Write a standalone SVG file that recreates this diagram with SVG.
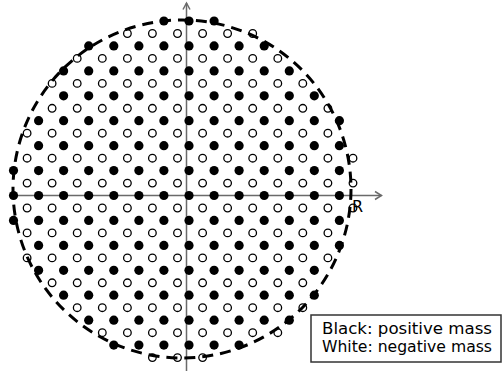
<svg xmlns="http://www.w3.org/2000/svg" width="502" height="371" viewBox="0 0 502 371">
<style>
.ax{stroke:#6a6a6a;stroke-width:1.5;fill:none}
.bd{fill:#000}
.wd{fill:#fff;stroke:#000;stroke-width:1.3}
.rim{fill:none;stroke:#000;stroke-width:3;stroke-dasharray:11 7}
.lbl{font-family:"DejaVu Sans","Liberation Sans",sans-serif;fill:#000}
</style>
<defs>
<circle id="b" r="4.6" class="bd"/>
<circle id="w" r="3.8" class="wd"/>
</defs>
<rect width="502" height="371" fill="#fff"/>
<g id="axes">
<line class="ax" x1="186.5" y1="371" x2="186.5" y2="3"/>
<polyline class="ax" points="183,9.5 186.5,3 190,9.5"/>
<line class="ax" x1="12" y1="195.5" x2="381.5" y2="195.5"/>
<polyline class="ax" points="375,191.5 381.5,195.5 375,199.5"/>
</g>
<g id="positive">
<use href="#b" x="163.9" y="21"/><use href="#b" x="189" y="21"/><use href="#b" x="214.1" y="21"/>
<use href="#b" x="88.7" y="45.9"/><use href="#b" x="113.8" y="45.9"/><use href="#b" x="138.9" y="45.9"/><use href="#b" x="163.9" y="45.9"/><use href="#b" x="189" y="45.9"/><use href="#b" x="214.1" y="45.9"/><use href="#b" x="239.1" y="45.9"/><use href="#b" x="264.2" y="45.9"/>
<use href="#b" x="63.6" y="70.9"/><use href="#b" x="88.7" y="70.9"/><use href="#b" x="113.8" y="70.9"/><use href="#b" x="138.9" y="70.9"/><use href="#b" x="163.9" y="70.9"/><use href="#b" x="189" y="70.9"/><use href="#b" x="214.1" y="70.9"/><use href="#b" x="239.1" y="70.9"/><use href="#b" x="264.2" y="70.9"/><use href="#b" x="289.3" y="70.9"/>
<use href="#b" x="63.6" y="95.8"/><use href="#b" x="88.7" y="95.8"/><use href="#b" x="113.8" y="95.8"/><use href="#b" x="138.9" y="95.8"/><use href="#b" x="163.9" y="95.8"/><use href="#b" x="189" y="95.8"/><use href="#b" x="214.1" y="95.8"/><use href="#b" x="239.1" y="95.8"/><use href="#b" x="264.2" y="95.8"/><use href="#b" x="289.3" y="95.8"/><use href="#b" x="314.3" y="95.8"/>
<use href="#b" x="38.6" y="120.7"/><use href="#b" x="63.6" y="120.7"/><use href="#b" x="88.7" y="120.7"/><use href="#b" x="113.8" y="120.7"/><use href="#b" x="138.9" y="120.7"/><use href="#b" x="163.9" y="120.7"/><use href="#b" x="189" y="120.7"/><use href="#b" x="214.1" y="120.7"/><use href="#b" x="239.1" y="120.7"/><use href="#b" x="264.2" y="120.7"/><use href="#b" x="289.3" y="120.7"/><use href="#b" x="314.3" y="120.7"/><use href="#b" x="339.4" y="120.7"/>
<use href="#b" x="38.6" y="145.7"/><use href="#b" x="63.6" y="145.7"/><use href="#b" x="88.7" y="145.7"/><use href="#b" x="113.8" y="145.7"/><use href="#b" x="138.9" y="145.7"/><use href="#b" x="163.9" y="145.7"/><use href="#b" x="189" y="145.7"/><use href="#b" x="214.1" y="145.7"/><use href="#b" x="239.1" y="145.7"/><use href="#b" x="264.2" y="145.7"/><use href="#b" x="289.3" y="145.7"/><use href="#b" x="314.3" y="145.7"/><use href="#b" x="339.4" y="145.7"/>
<use href="#b" x="13.5" y="170.6"/><use href="#b" x="38.6" y="170.6"/><use href="#b" x="63.6" y="170.6"/><use href="#b" x="88.7" y="170.6"/><use href="#b" x="113.8" y="170.6"/><use href="#b" x="138.9" y="170.6"/><use href="#b" x="163.9" y="170.6"/><use href="#b" x="189" y="170.6"/><use href="#b" x="214.1" y="170.6"/><use href="#b" x="239.1" y="170.6"/><use href="#b" x="264.2" y="170.6"/><use href="#b" x="289.3" y="170.6"/><use href="#b" x="314.3" y="170.6"/><use href="#b" x="339.4" y="170.6"/>
<use href="#b" x="13.5" y="195.5"/><use href="#b" x="38.6" y="195.5"/><use href="#b" x="63.6" y="195.5"/><use href="#b" x="88.7" y="195.5"/><use href="#b" x="113.8" y="195.5"/><use href="#b" x="138.9" y="195.5"/><use href="#b" x="163.9" y="195.5"/><use href="#b" x="189" y="195.5"/><use href="#b" x="214.1" y="195.5"/><use href="#b" x="239.1" y="195.5"/><use href="#b" x="264.2" y="195.5"/><use href="#b" x="289.3" y="195.5"/><use href="#b" x="314.3" y="195.5"/><use href="#b" x="339.4" y="195.5"/>
<use href="#b" x="13.5" y="220.4"/><use href="#b" x="38.6" y="220.4"/><use href="#b" x="63.6" y="220.4"/><use href="#b" x="88.7" y="220.4"/><use href="#b" x="113.8" y="220.4"/><use href="#b" x="138.9" y="220.4"/><use href="#b" x="163.9" y="220.4"/><use href="#b" x="189" y="220.4"/><use href="#b" x="214.1" y="220.4"/><use href="#b" x="239.1" y="220.4"/><use href="#b" x="264.2" y="220.4"/><use href="#b" x="289.3" y="220.4"/><use href="#b" x="314.3" y="220.4"/><use href="#b" x="339.4" y="220.4"/>
<use href="#b" x="38.6" y="245.4"/><use href="#b" x="63.6" y="245.4"/><use href="#b" x="88.7" y="245.4"/><use href="#b" x="113.8" y="245.4"/><use href="#b" x="138.9" y="245.4"/><use href="#b" x="163.9" y="245.4"/><use href="#b" x="189" y="245.4"/><use href="#b" x="214.1" y="245.4"/><use href="#b" x="239.1" y="245.4"/><use href="#b" x="264.2" y="245.4"/><use href="#b" x="289.3" y="245.4"/><use href="#b" x="314.3" y="245.4"/><use href="#b" x="339.4" y="245.4"/>
<use href="#b" x="38.6" y="270.3"/><use href="#b" x="63.6" y="270.3"/><use href="#b" x="88.7" y="270.3"/><use href="#b" x="113.8" y="270.3"/><use href="#b" x="138.9" y="270.3"/><use href="#b" x="163.9" y="270.3"/><use href="#b" x="189" y="270.3"/><use href="#b" x="214.1" y="270.3"/><use href="#b" x="239.1" y="270.3"/><use href="#b" x="264.2" y="270.3"/><use href="#b" x="289.3" y="270.3"/><use href="#b" x="314.3" y="270.3"/>
<use href="#b" x="63.6" y="295.2"/><use href="#b" x="88.7" y="295.2"/><use href="#b" x="113.8" y="295.2"/><use href="#b" x="138.9" y="295.2"/><use href="#b" x="163.9" y="295.2"/><use href="#b" x="189" y="295.2"/><use href="#b" x="214.1" y="295.2"/><use href="#b" x="239.1" y="295.2"/><use href="#b" x="264.2" y="295.2"/><use href="#b" x="289.3" y="295.2"/><use href="#b" x="314.3" y="295.2"/>
<use href="#b" x="88.7" y="320.2"/><use href="#b" x="113.8" y="320.2"/><use href="#b" x="138.9" y="320.2"/><use href="#b" x="163.9" y="320.2"/><use href="#b" x="189" y="320.2"/><use href="#b" x="214.1" y="320.2"/><use href="#b" x="239.1" y="320.2"/><use href="#b" x="264.2" y="320.2"/><use href="#b" x="289.3" y="320.2"/>
<use href="#b" x="113.8" y="345.1"/><use href="#b" x="138.9" y="345.1"/><use href="#b" x="163.9" y="345.1"/><use href="#b" x="189" y="345.1"/><use href="#b" x="214.1" y="345.1"/><use href="#b" x="239.1" y="345.1"/>
</g>
<g id="negative">
<use href="#w" x="127.4" y="33.5"/><use href="#w" x="152.4" y="33.5"/><use href="#w" x="177.5" y="33.5"/><use href="#w" x="202.6" y="33.5"/><use href="#w" x="227.6" y="33.5"/><use href="#w" x="252.7" y="33.5"/>
<use href="#w" x="77.2" y="58.4"/><use href="#w" x="102.3" y="58.4"/><use href="#w" x="127.4" y="58.4"/><use href="#w" x="152.4" y="58.4"/><use href="#w" x="177.5" y="58.4"/><use href="#w" x="202.6" y="58.4"/><use href="#w" x="227.6" y="58.4"/><use href="#w" x="252.7" y="58.4"/><use href="#w" x="277.8" y="58.4"/>
<use href="#w" x="52.1" y="83.4"/><use href="#w" x="77.2" y="83.4"/><use href="#w" x="102.3" y="83.4"/><use href="#w" x="127.4" y="83.4"/><use href="#w" x="152.4" y="83.4"/><use href="#w" x="177.5" y="83.4"/><use href="#w" x="202.6" y="83.4"/><use href="#w" x="227.6" y="83.4"/><use href="#w" x="252.7" y="83.4"/><use href="#w" x="277.8" y="83.4"/><use href="#w" x="302.8" y="83.4"/>
<use href="#w" x="52.1" y="108.3"/><use href="#w" x="77.2" y="108.3"/><use href="#w" x="102.3" y="108.3"/><use href="#w" x="127.4" y="108.3"/><use href="#w" x="152.4" y="108.3"/><use href="#w" x="177.5" y="108.3"/><use href="#w" x="202.6" y="108.3"/><use href="#w" x="227.6" y="108.3"/><use href="#w" x="252.7" y="108.3"/><use href="#w" x="277.8" y="108.3"/><use href="#w" x="302.8" y="108.3"/><use href="#w" x="327.9" y="108.3"/>
<use href="#w" x="27.1" y="133.2"/><use href="#w" x="52.1" y="133.2"/><use href="#w" x="77.2" y="133.2"/><use href="#w" x="102.3" y="133.2"/><use href="#w" x="127.4" y="133.2"/><use href="#w" x="152.4" y="133.2"/><use href="#w" x="177.5" y="133.2"/><use href="#w" x="202.6" y="133.2"/><use href="#w" x="227.6" y="133.2"/><use href="#w" x="252.7" y="133.2"/><use href="#w" x="277.8" y="133.2"/><use href="#w" x="302.8" y="133.2"/><use href="#w" x="327.9" y="133.2"/>
<use href="#w" x="27.1" y="158.2"/><use href="#w" x="52.1" y="158.2"/><use href="#w" x="77.2" y="158.2"/><use href="#w" x="102.3" y="158.2"/><use href="#w" x="127.4" y="158.2"/><use href="#w" x="152.4" y="158.2"/><use href="#w" x="177.5" y="158.2"/><use href="#w" x="202.6" y="158.2"/><use href="#w" x="227.6" y="158.2"/><use href="#w" x="252.7" y="158.2"/><use href="#w" x="277.8" y="158.2"/><use href="#w" x="302.8" y="158.2"/><use href="#w" x="327.9" y="158.2"/><use href="#w" x="353" y="158.2"/>
<use href="#w" x="27.1" y="183.1"/><use href="#w" x="52.1" y="183.1"/><use href="#w" x="77.2" y="183.1"/><use href="#w" x="102.3" y="183.1"/><use href="#w" x="127.4" y="183.1"/><use href="#w" x="152.4" y="183.1"/><use href="#w" x="177.5" y="183.1"/><use href="#w" x="202.6" y="183.1"/><use href="#w" x="227.6" y="183.1"/><use href="#w" x="252.7" y="183.1"/><use href="#w" x="277.8" y="183.1"/><use href="#w" x="302.8" y="183.1"/><use href="#w" x="327.9" y="183.1"/><use href="#w" x="353" y="183.1"/>
<use href="#w" x="27.1" y="208"/><use href="#w" x="52.1" y="208"/><use href="#w" x="77.2" y="208"/><use href="#w" x="102.3" y="208"/><use href="#w" x="127.4" y="208"/><use href="#w" x="152.4" y="208"/><use href="#w" x="177.5" y="208"/><use href="#w" x="202.6" y="208"/><use href="#w" x="227.6" y="208"/><use href="#w" x="252.7" y="208"/><use href="#w" x="277.8" y="208"/><use href="#w" x="302.8" y="208"/><use href="#w" x="327.9" y="208"/><use href="#w" x="353" y="208"/>
<use href="#w" x="27.1" y="232.9"/><use href="#w" x="52.1" y="232.9"/><use href="#w" x="77.2" y="232.9"/><use href="#w" x="102.3" y="232.9"/><use href="#w" x="127.4" y="232.9"/><use href="#w" x="152.4" y="232.9"/><use href="#w" x="177.5" y="232.9"/><use href="#w" x="202.6" y="232.9"/><use href="#w" x="227.6" y="232.9"/><use href="#w" x="252.7" y="232.9"/><use href="#w" x="277.8" y="232.9"/><use href="#w" x="302.8" y="232.9"/><use href="#w" x="327.9" y="232.9"/>
<use href="#w" x="27.1" y="257.9"/><use href="#w" x="52.1" y="257.9"/><use href="#w" x="77.2" y="257.9"/><use href="#w" x="102.3" y="257.9"/><use href="#w" x="127.4" y="257.9"/><use href="#w" x="152.4" y="257.9"/><use href="#w" x="177.5" y="257.9"/><use href="#w" x="202.6" y="257.9"/><use href="#w" x="227.6" y="257.9"/><use href="#w" x="252.7" y="257.9"/><use href="#w" x="277.8" y="257.9"/><use href="#w" x="302.8" y="257.9"/><use href="#w" x="327.9" y="257.9"/>
<use href="#w" x="52.1" y="282.8"/><use href="#w" x="77.2" y="282.8"/><use href="#w" x="102.3" y="282.8"/><use href="#w" x="127.4" y="282.8"/><use href="#w" x="152.4" y="282.8"/><use href="#w" x="177.5" y="282.8"/><use href="#w" x="202.6" y="282.8"/><use href="#w" x="227.6" y="282.8"/><use href="#w" x="252.7" y="282.8"/><use href="#w" x="277.8" y="282.8"/><use href="#w" x="302.8" y="282.8"/>
<use href="#w" x="77.2" y="307.7"/><use href="#w" x="102.3" y="307.7"/><use href="#w" x="127.4" y="307.7"/><use href="#w" x="152.4" y="307.7"/><use href="#w" x="177.5" y="307.7"/><use href="#w" x="202.6" y="307.7"/><use href="#w" x="227.6" y="307.7"/><use href="#w" x="252.7" y="307.7"/><use href="#w" x="277.8" y="307.7"/><use href="#w" x="302.8" y="307.7"/>
<use href="#w" x="102.3" y="332.7"/><use href="#w" x="127.4" y="332.7"/><use href="#w" x="152.4" y="332.7"/><use href="#w" x="177.5" y="332.7"/><use href="#w" x="202.6" y="332.7"/><use href="#w" x="227.6" y="332.7"/><use href="#w" x="252.7" y="332.7"/><use href="#w" x="277.8" y="332.7"/>
<use href="#w" x="152.4" y="357.6"/><use href="#w" x="177.5" y="357.6"/><use href="#w" x="202.6" y="357.6"/>
</g>
<circle id="boundary" class="rim" cx="182" cy="189" r="169"/>
<text id="label-R" class="lbl" x="352" y="212" font-size="16">R</text>
<g id="legend">
<rect x="311" y="315" width="190" height="47" fill="#fff" stroke="#333" stroke-width="1.5"/>
<text class="lbl" x="322" y="334" font-size="16" textLength="170" lengthAdjust="spacingAndGlyphs">Black: positive mass</text>
<text class="lbl" x="322" y="352" font-size="16" textLength="170" lengthAdjust="spacingAndGlyphs">White: negative mass</text>
</g>
</svg>
